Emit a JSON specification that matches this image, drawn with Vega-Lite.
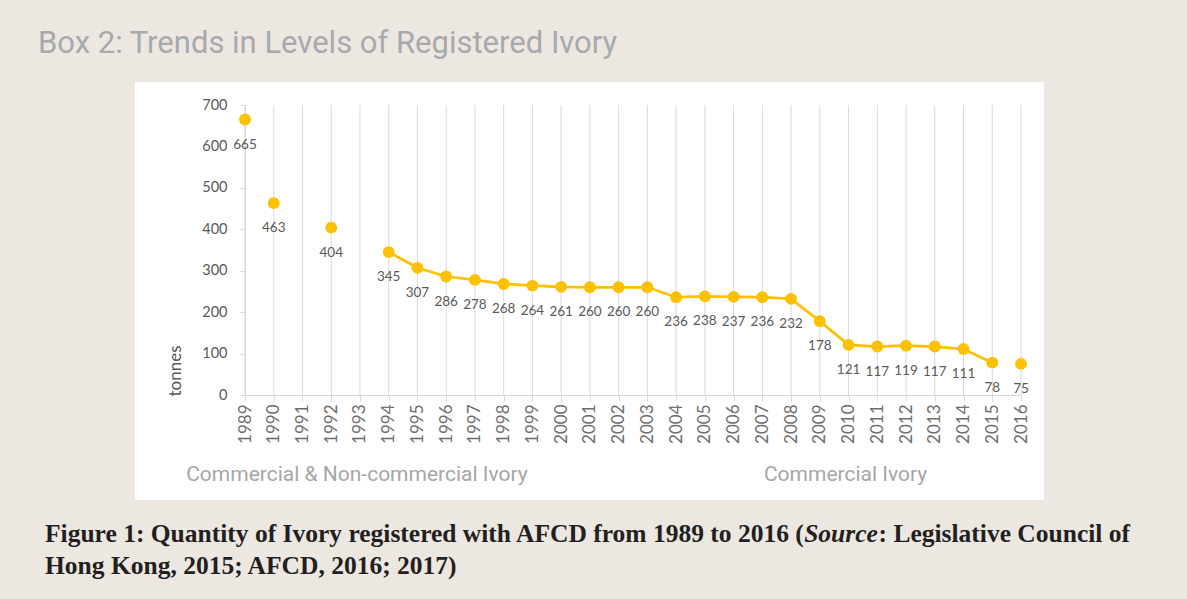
{
  "$schema": "https://vega.github.io/schema/vega-lite/v6.json",
  "autosize": {"type": "none"},
  "width": 909,
  "height": 418,
  "padding": {"left": 135, "top": 82, "right": 143, "bottom": 99},
  "background": "#ECE7E0",
  "title": {
    "text": "Box 2: Trends in Levels of Registered Ivory",
    "anchor": "start",
    "frame": "group",
    "dx": -97,
    "dy": 25,
    "offset": 23,
    "baseline": "alphabetic",
    "font": "Roboto",
    "fontSize": 31,
    "fontWeight": "normal",
    "color": "#A7A9AC"
  },
  "config": {
    "view": {"fill": "white", "stroke": null},
    "font": "Lato"
  },
  "data": {
    "values": [
      {"year": "1989", "tonnes": 665},
      {"year": "1990", "tonnes": 463},
      {"year": "1991", "tonnes": null},
      {"year": "1992", "tonnes": 404},
      {"year": "1993", "tonnes": null},
      {"year": "1994", "tonnes": 345},
      {"year": "1995", "tonnes": 307},
      {"year": "1996", "tonnes": 286},
      {"year": "1997", "tonnes": 278},
      {"year": "1998", "tonnes": 268},
      {"year": "1999", "tonnes": 264},
      {"year": "2000", "tonnes": 261},
      {"year": "2001", "tonnes": 260},
      {"year": "2002", "tonnes": 260},
      {"year": "2003", "tonnes": 260},
      {"year": "2004", "tonnes": 236},
      {"year": "2005", "tonnes": 238},
      {"year": "2006", "tonnes": 237},
      {"year": "2007", "tonnes": 236},
      {"year": "2008", "tonnes": 232},
      {"year": "2009", "tonnes": 178},
      {"year": "2010", "tonnes": 121},
      {"year": "2011", "tonnes": 117},
      {"year": "2012", "tonnes": 119},
      {"year": "2013", "tonnes": 117},
      {"year": "2014", "tonnes": 111},
      {"year": "2015", "tonnes": 78},
      {"year": "2016", "tonnes": 75}
    ]
  },
  "encoding": {
    "x": {
      "field": "year",
      "type": "ordinal",
      "sort": null,
      "scale": {"type": "point", "range": [110, 886], "padding": 0},
      "axis": {
        "orient": "bottom",
        "offset": -105,
        "title": null,
        "domainColor": "#D9D9D9",
        "tickColor": "#D9D9D9",
        "tickSize": 6,
        "labelAngle": 270,
        "labelPadding": 3,
        "labelFont": "Lato",
        "labelFontSize": 17,
        "labelColor": "#6E6E6E",
        "grid": false
      }
    }
  },
  "layer": [
    {
      "mark": {"type": "rule", "color": "#D9D9D9", "strokeWidth": 1},
      "encoding": {
        "y": {"datum": 0, "type": "quantitative", "scale": {"domain": [0, 700], "range": [313, 23]}},
        "y2": {"datum": 700}
      }
    },
    {
      "transform": [{"filter": "toNumber(datum.year) >= 1994 && toNumber(datum.year) <= 2015"}],
      "mark": {"type": "line", "color": "#FFC000", "strokeWidth": 2.75},
      "encoding": {
        "y": {"field": "tonnes", "type": "quantitative"}
      }
    },
    {
      "transform": [{"filter": "isValid(datum.tonnes)"}],
      "mark": {"type": "circle", "color": "#FFC000", "opacity": 1, "size": 140},
      "encoding": {
        "y": {
          "field": "tonnes",
          "type": "quantitative",
          "axis": {
            "orient": "left",
            "offset": -110,
            "values": [0, 100, 200, 300, 400, 500, 600, 700],
            "grid": false,
            "domainColor": "#D9D9D9",
            "tickColor": "#D9D9D9",
            "tickSize": 5,
            "labelPadding": 13,
            "labelFont": "Lato",
            "labelFontSize": 14.5,
            "labelColor": "#595959",
            "title": "tonnes",
            "titleFont": "Lato",
            "titleFontSize": 17,
            "titleFontWeight": "normal",
            "titleColor": "#595959",
            "titleAngle": 270,
            "titleAlign": "left",
            "titleBaseline": "middle",
            "titleX": -70,
            "titleY": 314
          }
        }
      }
    },
    {
      "transform": [{"filter": "isValid(datum.tonnes)"}],
      "mark": {"type": "text", "dy": 25, "fontSize": 13.5, "font": "Lato", "color": "#595959", "baseline": "middle"},
      "encoding": {
        "y": {"field": "tonnes", "type": "quantitative"},
        "text": {"field": "tonnes", "type": "quantitative"}
      }
    },
    {
      "data": {"values": [
        {"label": "Commercial & Non-commercial Ivory", "pos": "1993"},
        {"label": "Commercial Ivory", "pos": "2010"}
      ]},
      "mark": {"type": "text", "font": "Roboto", "fontSize": 21, "color": "#A6A6A6", "baseline": "middle", "dy": 80, "dx": -3},
      "encoding": {
        "x": {"field": "pos", "type": "ordinal"},
        "y": {"datum": 0, "type": "quantitative"},
        "text": {"field": "label"}
      }
    },
    {
      "data": {"values": [{"caption": "Figure 1: Quantity of Ivory registered with AFCD from 1989 to 2016 ("}]},
      "mark": {"type": "text", "font": "Liberation Serif", "fontWeight": "bold", "fontSize": 25.5, "color": "#231F20", "align": "left", "baseline": "alphabetic", "dx": -200, "dy": 147},
      "encoding": {
        "x": {"datum": "1989"},
        "y": {"datum": 0, "type": "quantitative"},
        "text": {"field": "caption"}
      }
    },
    {
      "data": {"values": [{"caption": "Source"}]},
      "mark": {"type": "text", "font": "Liberation Serif", "fontWeight": "bold", "fontStyle": "italic", "fontSize": 25.5, "color": "#231F20", "align": "center", "baseline": "alphabetic", "dx": 596, "dy": 147},
      "encoding": {
        "x": {"datum": "1989"},
        "y": {"datum": 0, "type": "quantitative"},
        "text": {"field": "caption"}
      }
    },
    {
      "data": {"values": [{"caption": ": Legislative Council of"}]},
      "mark": {"type": "text", "font": "Liberation Serif", "fontWeight": "bold", "fontSize": 25.5, "color": "#231F20", "align": "right", "baseline": "alphabetic", "dx": 885, "dy": 147},
      "encoding": {
        "x": {"datum": "1989"},
        "y": {"datum": 0, "type": "quantitative"},
        "text": {"field": "caption"}
      }
    },
    {
      "data": {"values": [{"caption": "Hong Kong, 2015; AFCD, 2016; 2017)"}]},
      "mark": {"type": "text", "font": "Liberation Serif", "fontWeight": "bold", "fontSize": 25.5, "color": "#231F20", "align": "left", "baseline": "alphabetic", "dx": -200, "dy": 179},
      "encoding": {
        "x": {"datum": "1989"},
        "y": {"datum": 0, "type": "quantitative"},
        "text": {"field": "caption"}
      }
    }
  ]
}
